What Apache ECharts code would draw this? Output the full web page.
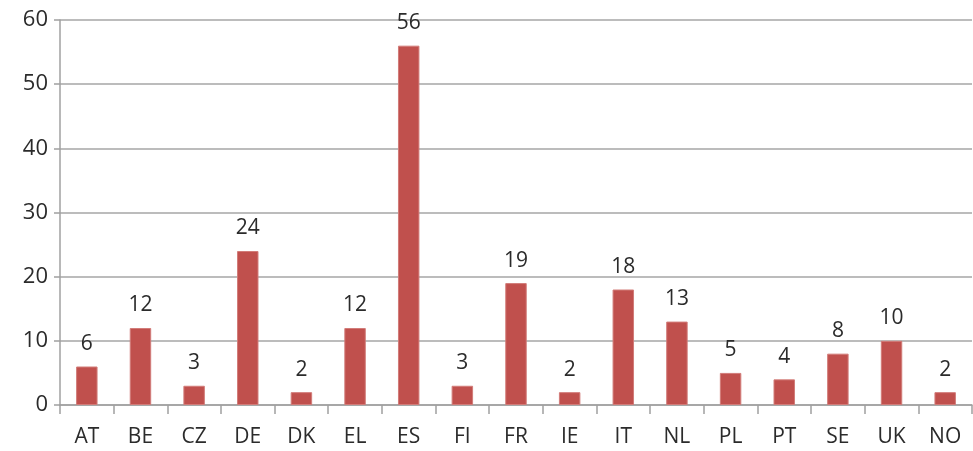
<!DOCTYPE html>
<html>
<head>
<meta charset="utf-8">
<script src="https://cdn.jsdelivr.net/npm/echarts@6/dist/echarts.min.js"></script>
<style>
    html, body { margin: 0; padding: 0; background: #fff; }
    #chart { width: 973px; height: 451px; }
</style>
</head>
<body>
<div id="chart"></div>
<script>
    // countries and values
    var countries = ['AT', 'BE', 'CZ', 'DE', 'DK', 'EL', 'ES', 'FI', 'FR', 'IE', 'IT', 'NL', 'PL', 'PT', 'SE', 'UK', 'NO'];
    var counts = [6, 12, 3, 24, 2, 12, 56, 3, 19, 2, 18, 13, 5, 4, 8, 10, 2];

    var chart = echarts.init(document.getElementById('chart'));
    var font = 'Open Sans, Liberation Sans, sans-serif';

    chart.setOption({
        animation: false,
        grid: {
            left: 60,
            right: 1,
            top: 20,
            bottom: 46
        },
        xAxis: {
            type: 'category',
            data: countries,
            axisLine: { lineStyle: { color: '#a0a0a0', width: 1.5 } },
            axisTick: { show: true, length: 9, lineStyle: { color: '#a0a0a0', width: 1.5 } },
            axisLabel: { color: '#2b2b2b', fontSize: 21, fontFamily: font, margin: 22 }
        },
        yAxis: {
            type: 'value',
            min: 0,
            max: 60,
            interval: 10,
            axisLine: { show: true, lineStyle: { color: '#a0a0a0', width: 1.5 } },
            axisTick: { show: true, length: 6, lineStyle: { color: '#a0a0a0', width: 1.5 } },
            splitLine: { lineStyle: { color: '#a6a6a6', width: 1.5 } },
            axisLabel: { color: '#2b2b2b', fontSize: 22, fontFamily: font, margin: 12 }
        },
        series: [{
            name: 'count',
            type: 'bar',
            data: counts,
            barWidth: '40%',
            itemStyle: { color: '#c0504d', borderColor: '#d27c79', borderWidth: 1 },
            label: {
                show: true,
                position: 'top',
                distance: 12,
                color: '#2b2b2b',
                fontSize: 21,
                fontFamily: font
            }
        }]
    });
</script>
</body>
</html>
